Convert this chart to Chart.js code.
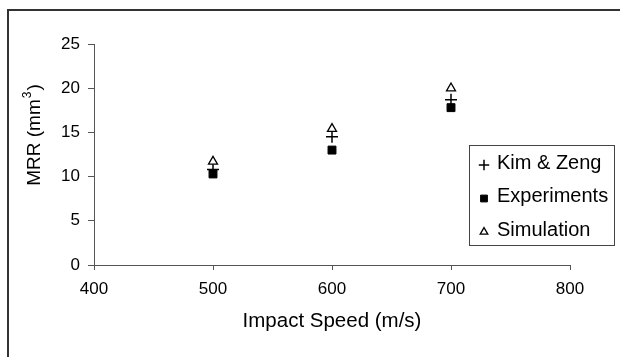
<!DOCTYPE html>
<html>
<head>
<meta charset="utf-8">
<title>MRR vs Impact Speed</title>
<script src="https://cdn.jsdelivr.net/npm/chart.js@4.4.1/dist/chart.umd.min.js"></script>
<style>
  html, body { margin: 0; padding: 0; background: #fff; }
  #wrap { position: relative; width: 620px; height: 357px; overflow: hidden; }
  #frame {
    position: absolute; left: 7px; top: 9px; width: 700px; height: 400px;
    border-left: 2px solid #333; border-top: 2px solid #333;
    pointer-events: none;
  }
  canvas { position: absolute; left: 0; top: 0; }
</style>
</head>
<body>
<div id="wrap">
  <canvas id="mrrChart" width="620" height="357"></canvas>
  <div id="frame"></div>
</div>
<script>
// impact speeds (m/s)
const speeds = [500, 600, 700];

// MRR values (mm^3)
const kimZeng = [10.8, 14.5, 18.7];
const experiments = [10.3, 13.0, 17.8];
const simulation = [11.7, 15.4, 20.0];

const seriesNames = ["Kim & Zeng", "Experiments", "Simulation"];

// axis ticks
const xTicks = [400, 500, 600, 700, 800];
const yTicks = [0, 5, 10, 15, 20, 25];

const FONT = "'Liberation Sans', Arial, sans-serif";

function toPoints(values) {
  return speeds.map((s, i) => ({ x: s, y: values[i] }));
}

// y axis title, drawn by hand so the 3 can be a superscript
const yTitlePlugin = {
  id: "yTitle",
  afterDraw(chart) {
    const ctx = chart.ctx;
    const area = chart.chartArea;
    const a = "MRR (mm";
    const b = ")";
    ctx.save();
    ctx.translate(35, area.top + 91);
    ctx.rotate(-Math.PI / 2);
    ctx.fillStyle = "#000";
    ctx.textBaseline = "middle";
    ctx.textAlign = "left";
    ctx.font = "19px " + FONT;
    const wa = ctx.measureText(a).width;
    const wb = ctx.measureText(b).width;
    ctx.font = "12px " + FONT;
    const ws = ctx.measureText("3").width;
    let x = -(wa + ws + wb + 2) / 2;
    ctx.font = "19px " + FONT;
    ctx.fillText(a, x, 0);
    x += wa + 1;
    ctx.font = "12px " + FONT;
    ctx.fillText("3", x, -7);
    x += ws + 1;
    ctx.font = "19px " + FONT;
    ctx.fillText(b, x, 0);
    ctx.restore();
  }
};

// boxed legend inside the plot, right side
const legendBoxPlugin = {
  id: "legendBox",
  afterDraw(chart) {
    const ctx = chart.ctx;
    const area = chart.chartArea;
    const left = area.right - 101;
    const top = area.top + 101;
    const w = 145, h = 100;
    ctx.save();
    ctx.fillStyle = "#fff";
    ctx.fillRect(left, top, w, h);
    ctx.strokeStyle = "#444";
    ctx.lineWidth = 1;
    ctx.strokeRect(left + 0.5, top + 0.5, w, h);
    chart.data.datasets.forEach((ds, i) => {
      const cy = top + 18 + i * 33.5;
      ctx.fillStyle = ds.backgroundColor;
      ctx.strokeStyle = ds.borderColor;
      ctx.lineWidth = ds.borderWidth;
      Chart.helpers.drawPoint(ctx, {
        pointStyle: ds.pointStyle,
        radius: ds.pointRadius - 0.8,
        borderWidth: ds.borderWidth
      }, left + 15, cy + 2);
      ctx.fillStyle = "#000";
      ctx.font = "20px " + FONT;
      ctx.textBaseline = "middle";
      ctx.textAlign = "left";
      ctx.fillText(ds.label, left + 28, cy);
    });
    ctx.restore();
  }
};

const ctx = document.getElementById("mrrChart").getContext("2d");

new Chart(ctx, {
  type: "scatter",
  data: {
    datasets: [
      {
        label: seriesNames[0],
        data: toPoints(kimZeng),
        pointStyle: "cross",
        pointRadius: 6,
        borderWidth: 1.5,
        borderColor: "#000",
        backgroundColor: "#000",
        order: 2
      },
      {
        label: seriesNames[1],
        data: toPoints(experiments),
        pointStyle: "rect",
        pointRadius: 5.6,
        borderWidth: 1,
        borderColor: "#000",
        backgroundColor: "#000",
        order: 1
      },
      {
        label: seriesNames[2],
        data: toPoints(simulation),
        pointStyle: "triangle",
        pointRadius: 5.2,
        borderWidth: 1.3,
        borderColor: "#000",
        backgroundColor: "#fff",
        order: 0
      }
    ]
  },
  options: {
    responsive: false,
    animation: false,
    layout: { padding: { top: 44, right: 50, bottom: 19, left: 0 } },
    plugins: {
      legend: { display: false },
      tooltip: { enabled: false },
      title: { display: false }
    },
    scales: {
      x: {
        type: "linear",
        min: xTicks[0],
        max: xTicks[xTicks.length - 1],
        afterBuildTicks: (scale) => { scale.ticks = xTicks.map(v => ({ value: v })); },
        afterFit: (scale) => { scale.height = 73; },
        ticks: { color: "#000", font: { family: FONT, size: 17 }, padding: 9 },
        grid: { drawOnChartArea: false, drawTicks: true, tickLength: 5, color: "#555" },
        border: { display: true, color: "#555", width: 1 },
        title: {
          display: true,
          text: "Impact Speed (m/s)",
          color: "#000",
          font: { family: FONT, size: 20.5 }
        }
      },
      y: {
        type: "linear",
        min: yTicks[0],
        max: yTicks[yTicks.length - 1],
        afterBuildTicks: (scale) => { scale.ticks = yTicks.map(v => ({ value: v })); },
        afterFit: (scale) => { scale.width = 94; },
        ticks: { color: "#000", font: { family: FONT, size: 17 }, padding: 8 },
        grid: { drawOnChartArea: false, drawTicks: true, tickLength: 6, color: "#555" },
        border: { display: true, color: "#555", width: 1 }
      }
    }
  },
  plugins: [yTitlePlugin, legendBoxPlugin]
});
</script>
</body>
</html>
